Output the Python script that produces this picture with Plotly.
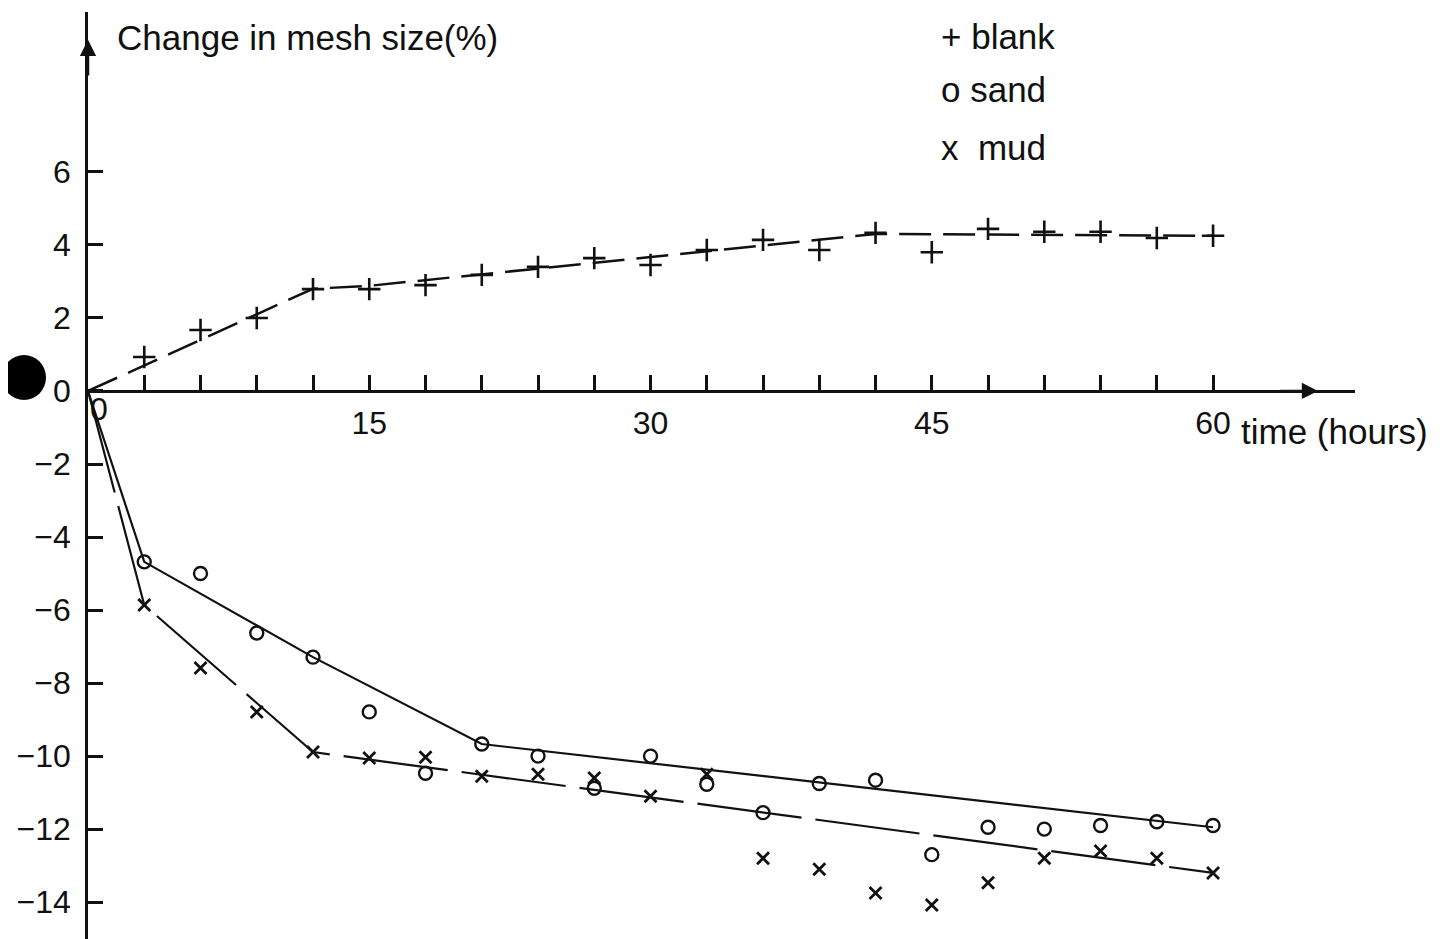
import plotly.graph_objects as go

# ---- data ----
hours = [3, 6, 9, 12, 15, 18, 21, 24, 27, 30, 33, 36, 39, 42, 45, 48, 51, 54, 57, 60]
blank = [0.93, 1.67, 2.0, 2.79, 2.79, 2.9, 3.18, 3.4, 3.64, 3.45, 3.86, 4.14, 3.86, 4.33, 3.8, 4.44, 4.36, 4.36, 4.19, 4.25]
sand = [-4.68, -5.0, -6.63, -7.29, -8.79, -10.47, -9.67, -10.0, -10.88, -10.0, -10.77, -11.55, -10.75, -10.66, -12.7, -11.95, -12.0, -11.9, -11.8, -11.9]
mud = [-5.86, -7.59, -8.79, -9.89, -10.05, -10.03, -10.55, -10.5, -10.6, -11.1, -10.5, -12.8, -13.1, -13.75, -14.08, -13.47, -12.8, -12.6, -12.8, -13.2]

# fitted (hand-drawn) trend lines
blank_fit_x = [0, 12, 15, 42, 60]
blank_fit_y = [0, 2.8, 2.88, 4.3, 4.25]
sand_fit_x = [0, 3, 12, 21, 60]
sand_fit_y = [0, -4.68, -7.29, -9.67, -11.95]
mud_fit_x = [0, 3, 12, 60]
mud_fit_y = [0, -5.86, -9.89, -13.2]

x_tickvals = list(range(0, 61, 3))
x_ticktext = ["15" if v == 15 else "30" if v == 30 else "45" if v == 45 else "60" if v == 60 else "" for v in x_tickvals]
y_tickvals = [-14, -12, -10, -8, -6, -4, -2, 0, 2, 4, 6]

y_title = "Change in mesh size(%)"
x_title = "time (hours)"
legend_lines = ["+ blank", "o sand", "x  mud"]

# ---- layout constants (page body has an 8px margin) ----
W, H = 1453, 939
ML, MR, MT, MB = 80, 106, 4, 8
X_RANGE = [0, 67.57]
Y_RANGE = [-15.01, 10.38]
FONT = "Liberation Sans, Arial, DejaVu Sans, sans-serif"
INK = "#111111"

fig = go.Figure()

fig.add_trace(go.Scatter(x=blank_fit_x, y=blank_fit_y, mode="lines",
                         line=dict(color=INK, width=2.5, dash="32px,12px"),
                         showlegend=False, hoverinfo="skip"))
fig.add_trace(go.Scatter(x=sand_fit_x, y=sand_fit_y, mode="lines",
                         line=dict(color=INK, width=2.2),
                         showlegend=False, hoverinfo="skip"))
fig.add_trace(go.Scatter(x=mud_fit_x, y=mud_fit_y, mode="lines",
                         line=dict(color=INK, width=2.2, dash="105px,14px"),
                         showlegend=False, hoverinfo="skip"))

fig.add_trace(go.Scatter(x=hours, y=blank, mode="markers", name="blank",
                         marker=dict(symbol="cross-thin", size=16, color=INK,
                                     line=dict(color=INK, width=2.6)),
                         showlegend=False))
fig.add_trace(go.Scatter(x=hours, y=sand, mode="markers", name="sand",
                         marker=dict(symbol="circle-open", size=13, color=INK,
                                     line=dict(color=INK, width=2.4)),
                         showlegend=False))
fig.add_trace(go.Scatter(x=hours, y=mud, mode="markers", name="mud",
                         marker=dict(symbol="x-thin", size=12, color=INK,
                                     line=dict(color=INK, width=2.8)),
                         showlegend=False))

x_pos = (0 - Y_RANGE[0]) / (Y_RANGE[1] - Y_RANGE[0])

fig.update_layout(
    width=W, height=H,
    margin=dict(l=ML, r=MR, t=MT, b=MB, autoexpand=False),
    paper_bgcolor="white", plot_bgcolor="white",
    font=dict(family=FONT, color=INK, size=32),
    xaxis=dict(range=X_RANGE, anchor="free", position=x_pos,
               showgrid=False, zeroline=False,
               showline=True, linecolor=INK, linewidth=2.5,
               tickmode="array", tickvals=x_tickvals, ticktext=x_ticktext,
               ticks="inside", ticklen=15, tickwidth=2.5, tickcolor=INK,
               ticklabelstandoff=3,
               tickfont=dict(family=FONT, size=32, color=INK),
               automargin=False, fixedrange=True),
    yaxis=dict(range=Y_RANGE, showgrid=False, zeroline=False,
               showline=True, linecolor=INK, linewidth=2.5,
               tickmode="array", tickvals=y_tickvals,
               ticks="inside", ticklen=15, tickwidth=2.5, tickcolor=INK,
               ticklabelstandoff=8,
               tickfont=dict(family=FONT, size=32, color=INK),
               automargin=False, fixedrange=True),
)

ann = []
# axis titles
ann.append(dict(x=1.44, y=9.67, xref="x", yref="y", text=y_title, showarrow=False,
                xanchor="left", yanchor="middle", font=dict(family=FONT, size=35, color=INK)))
ann.append(dict(x=61.4, y=-1.1, xref="x", yref="y", text=x_title, showarrow=False,
                xanchor="left", yanchor="middle", font=dict(family=FONT, size=35, color=INK)))
# x label at origin
ann.append(dict(x=0, y=-0.5, xref="x", yref="y", text="0", showarrow=False,
                xanchor="center", yanchor="middle", xshift=11,
                font=dict(family=FONT, size=32, color=INK)))
# legend as typed text
for txt, yy in zip(legend_lines, [9.7, 8.25, 6.68]):
    ann.append(dict(x=45.4, y=yy, xref="x", yref="y", text=txt, showarrow=False,
                    xanchor="left", yanchor="middle", font=dict(family=FONT, size=35, color=INK)))
# arrow heads on the axes
ann.append(dict(x=0, y=9.62, ax=0, ay=8.6, xref="x", yref="y", axref="x", ayref="y",
                text="", showarrow=True, arrowhead=2, arrowsize=1.3, arrowwidth=2.5, arrowcolor=INK))
ann.append(dict(x=65.6, y=0, ax=63.5, ay=0, xref="x", yref="y", axref="x", ayref="y",
                text="", showarrow=True, arrowhead=2, arrowsize=1.3, arrowwidth=2.5, arrowcolor=INK))
fig.update_layout(annotations=ann)

# scanned punch-hole mark at left margin (screen px ~2..46, 355..400)
PW, PH = W - ML - MR, H - MT - MB
OFF = 8  # page body offset
fig.add_shape(type="circle", xref="paper", yref="paper",
              x0=(2 - OFF - ML) / PW, x1=(46 - OFF - ML) / PW,
              y0=1 - (400 - OFF - MT) / PH, y1=1 - (355 - OFF - MT) / PH,
              fillcolor="black", line=dict(color="black", width=0))

fig.write_html("out.html")
